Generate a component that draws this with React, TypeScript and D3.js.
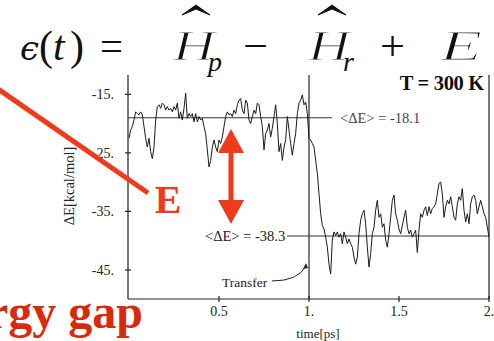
import React from "react";
import * as d3 from "d3";

// ---- data ----
const dt = 1 / 108; // ps per sample
const gapSeries: number[] = [
  // 0 – 1 ps (reactant state)
  -22.5, -21.1, -20.5, -19.4, -18.0, -18.3, -18.5, -18.0, -18.5, -20.5,
  -22.5, -24.0, -22.5, -24.8, -26.0, -24.0, -19.4, -17.1, -16.8, -17.4,
  -16.5, -16.8, -17.7, -17.1, -17.7, -17.4, -18.0, -17.1, -17.7, -16.5,
  -19.1, -18.0, -19.4, -17.4, -14.8, -19.1, -18.3, -18.8, -18.3, -19.7,
  -18.3, -19.7, -18.8, -19.4, -19.1, -20.5, -21.7, -24.5, -27.4, -26.3,
  -24.0, -22.8, -24.0, -24.8, -22.8, -23.4, -22.3, -20.5, -18.8, -18.0,
  -18.5, -18.3, -18.8, -17.7, -18.3, -16.8, -16.0, -15.7, -17.7, -18.3,
  -16.0, -16.5, -19.4, -20.0, -18.8, -17.7, -18.3, -16.5, -16.8, -18.8,
  -20.5, -24.5, -21.7, -21.1, -20.0, -22.3, -20.8, -18.8, -16.8, -20.0,
  -24.8, -23.4, -26.3, -24.0, -22.8, -18.8, -21.1, -23.4, -25.4, -23.4,
  -21.7, -18.3, -16.5, -16.0, -15.1, -16.8, -16.3, -18.3,
  // 1 – 2 ps (transfer and product state)
  -22.5, -22.8, -23.4, -24.0, -26.3, -28.5, -32.0, -35.4, -37.4, -38.0,
  -39.4, -41.1, -44.0, -45.7, -39.9, -38.5, -39.1, -38.5, -39.4, -38.8,
  -40.5, -38.5, -39.4, -40.5, -39.7, -40.5, -41.1, -42.8, -44.0, -42.8,
  -38.8, -36.5, -35.4, -34.8, -37.1, -41.1, -44.5, -42.2, -38.8, -37.7,
  -34.8, -33.1, -36.0, -35.4, -37.7, -37.1, -39.9, -41.1, -38.8, -36.0,
  -33.1, -32.2, -35.4, -36.5, -38.0, -38.8, -37.4, -36.0, -34.8, -37.7,
  -38.8, -38.2, -39.4, -38.8, -38.2, -42.0, -38.2, -35.4, -36.0, -34.8,
  -34.2, -35.7, -34.2, -35.4, -34.5, -34.2, -33.7, -32.0, -30.2, -30.0,
  -32.0, -36.0, -34.2, -33.1, -33.7, -32.5, -34.2, -36.0, -36.5, -33.7,
  -32.5, -33.1, -31.1, -34.8, -36.8, -35.4, -37.1, -33.7, -32.5, -32.2,
  -33.1, -35.4, -34.2, -33.1, -34.2, -35.4, -36.0, -37.7, -39.4,
];
const yTicks = [-15, -25, -35, -45];
const yTickLabels = ["-15.", "-25.", "-35.", "-45."];
const xTicks = [0.5, 1, 1.5, 2];
const xTickLabels = ["0.5", "1.", "1.5", "2."];
const meanLineValues = [-19.0, -39.2];
const meanLabels = ["<\u0394E> = -18.1", "<\u0394E> = -38.3"];
const transferTime = 1;

export default function App() {
  const x = d3.scaleLinear().domain([0, 2]).range([129, 489]);
  const y = d3.scaleLinear().domain([-45, -15]).range([270, 94.3]);
  const top = 75;
  const bottom = 299;
  const left = 128;
  const right = 489;

  const line = d3
    .line<number>()
    .x((_, i) => x(i * dt))
    .y((d) => y(d));

  const red = "#f03a1c";
  const darkRed = "#d82a0c";
  const serif = "'Liberation Serif', 'Times New Roman', serif";
  const sg = "spacingAndGlyphs";
  const thin = { stroke: "#fff", strokeWidth: 1.1 };

  return (
    <svg
      width={494}
      height={341}
      style={{ position: "absolute", left: 0, top: 0, background: "#fff" }}
      fontFamily={serif}
    >
      {/* equation */}
      <g fontSize={42} fill="#111">
        <text x={20} y={60} fontStyle="italic" fontFamily="'DejaVu Serif', serif" fontSize={34}>
          {"\u03F5"}
        </text>
        <text x={39} y={60}>(</text>
        <text x={53} y={60} fontStyle="italic">t</text>
        <text x={70} y={60}>)</text>
        <text x={100} y={60} textLength={23} lengthAdjust={sg}>=</text>
        <text x={173} y={60} fontStyle="italic" textLength={42} lengthAdjust={sg} {...thin}>H</text>
        <text x={208} y={71} fontStyle="italic" fontSize={28}>p</text>
        <text x={243} y={60} textLength={25} lengthAdjust={sg}>{"\u2212"}</text>
        <text x={308} y={60} fontStyle="italic" textLength={42} lengthAdjust={sg} {...thin}>H</text>
        <text x={343} y={71} fontStyle="italic" fontSize={28}>r</text>
        <text x={380} y={60} textLength={25} lengthAdjust={sg}>+</text>
        <text x={440} y={60} fontStyle="italic" textLength={42} lengthAdjust={sg} {...thin}>E</text>
        <path d="M182,15 L196,5 L210,15 L196,9 Z" fill="#111" stroke="#111" strokeWidth={1} />
        <path d="M318,15 L332,5 L346,15 L332,9 Z" fill="#111" stroke="#111" strokeWidth={1} />
      </g>

      {/* axes frame */}
      <g stroke="#222" strokeWidth={1.2} fill="none">
        <line x1={left} y1={top} x2={left} y2={bottom} />
        <line x1={left} y1={bottom} x2={right} y2={bottom} />
        <line x1={right} y1={top} x2={right} y2={bottom} />
        {yTicks.map((t) => (
          <line key={t} x1={left - 3} x2={left + 3} y1={y(t)} y2={y(t)} />
        ))}
        {xTicks.map((t) => (
          <line key={t} x1={x(t)} x2={x(t)} y1={bottom - 3} y2={bottom + 3} />
        ))}
      </g>
      <g fontSize={14} fill="#222">
        {yTicks.map((t, i) => (
          <text key={t} x={114} y={y(t)} dy="0.35em" textAnchor="end">
            {yTickLabels[i]}
          </text>
        ))}
      </g>
      <g fontSize={14} fill="#222">
        {xTicks.map((t, i) => (
          <text key={t} x={x(t)} y={316} textAnchor="middle">
            {xTickLabels[i]}
          </text>
        ))}
        <text x={318} y={338} textAnchor="middle" fontSize={13}>
          time[ps]
        </text>
      </g>
      <text
        transform="translate(74,186) rotate(-90)"
        textAnchor="middle"
        fontSize={14.5}
        fill="#222"
      >
        {"\u0394E[kcal/mol]"}
      </text>

      {/* transfer vertical line */}
      <line x1={x(transferTime)} x2={x(transferTime)} y1={top} y2={bottom} stroke="#111" strokeWidth={1.1} />

      {/* mean lines */}
      <line x1={left} x2={332} y1={y(meanLineValues[0])} y2={y(meanLineValues[0])} stroke="#333" strokeWidth={1.1} />
      <line x1={287} x2={right} y1={y(meanLineValues[1])} y2={y(meanLineValues[1])} stroke="#333" strokeWidth={1.1} />

      {/* trace */}
      <path d={line(gapSeries) || ""} fill="none" stroke="#1a1a1a" strokeWidth={1} strokeLinejoin="round" />

      {/* labels */}
      <text x={340} y={y(meanLineValues[0])} dy="0.35em" fontSize={14.5} fill="#444">
        {meanLabels[0]}
      </text>
      <text x={205} y={y(meanLineValues[1])} dy="0.35em" fontSize={14.5} fill="#222">
        {meanLabels[1]}
      </text>
      <text x={484} y={90} textAnchor="end" fontSize={20.5} fontWeight="bold" letterSpacing={-0.3} fill="#111">
        T = 300 K
      </text>
      <text x={222} y={287} fontSize={13.5} fill="#222">
        Transfer
      </text>
      <path d="M272,281 Q298,281 306,266" fill="none" stroke="#222" strokeWidth={1} />
      <path d="M306,263 L303,269 L308,268 Z" fill="#222" />

      {/* red annotations */}
      <line x1={-2} y1={89} x2={148} y2={193} stroke={red} strokeWidth={5} />
      <text x={168} y={213} textAnchor="middle" fontSize={40} fontWeight="bold" fill={red}>
        E
      </text>
      <rect x={228.5} y={150} width={5} height={52} fill={red} />
      <path d="M231,129 L244,153 L218,153 Z" fill={red} />
      <path d="M231,224 L244,200 L218,200 Z" fill={red} />
      <text x={143} y={328} textAnchor="end" fontSize={48} fontWeight="bold" fill={darkRed}>
        Energy gap
      </text>
    </svg>
  );
}
